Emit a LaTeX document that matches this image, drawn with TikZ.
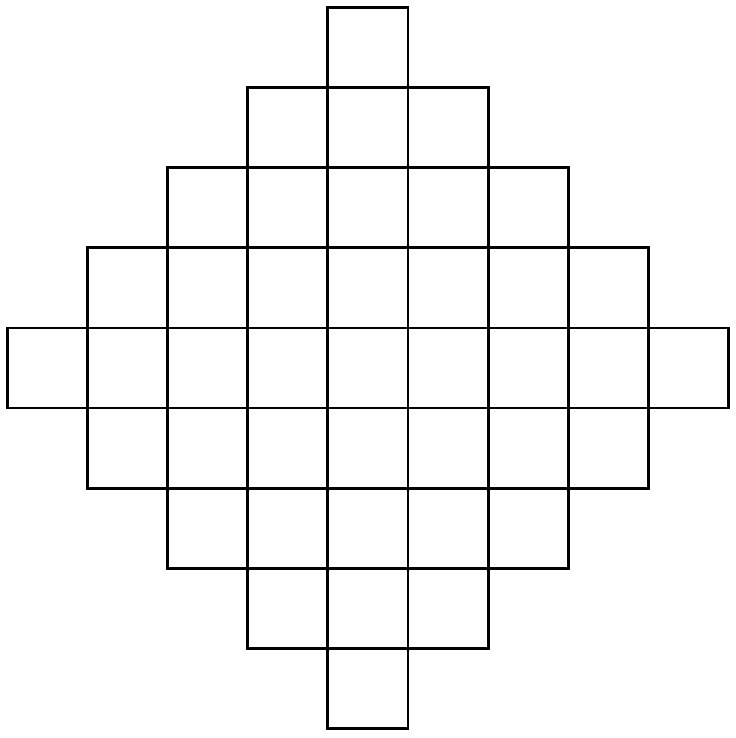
\documentclass[tikz,border=0pt]{standalone}
\begin{document}
\begin{tikzpicture}[x=0.02cm,y=-0.02cm,cell/.style={draw=black,line width=1.6pt}]
\useasboundingbox (0,0) rectangle (736,738);
\foreach \r in {0,...,8}{
  \foreach \c in {0,...,8}{
    \pgfmathtruncatemacro{\d}{abs(\c-4)+abs(\r-4)}
    \ifnum\d<5
      \draw[cell] ({7.5+80.1*\c},{7.5+80.1*\r}) rectangle ({7.5+80.1*(\c+1)},{7.5+80.1*(\r+1)});
    \fi
  }
}
\end{tikzpicture}
\end{document}
